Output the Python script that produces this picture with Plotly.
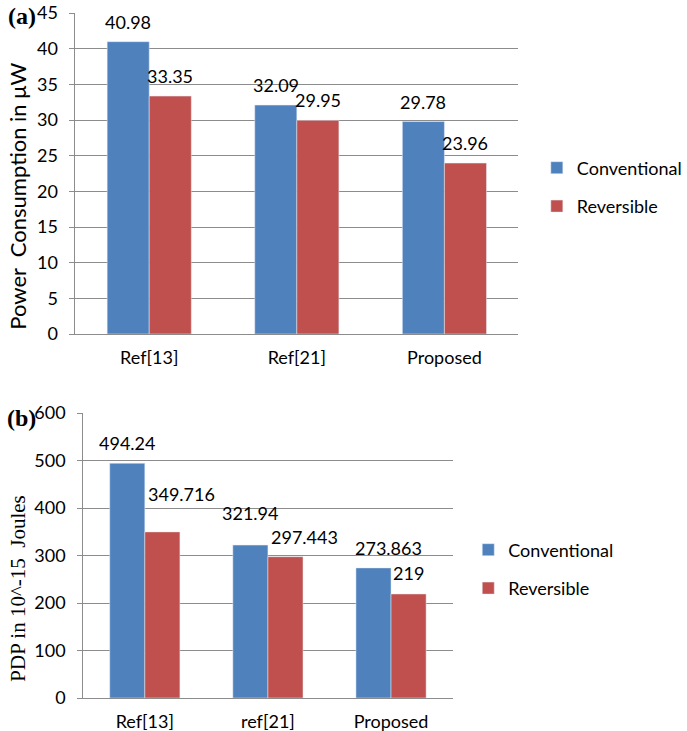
import plotly.graph_objects as go

# Panel (a): power consumption
cats_a = ["Ref[13]", "Ref[21]", "Proposed"]
power_conv = [40.98, 32.09, 29.78]
power_rev = [33.35, 29.95, 23.96]
power_conv_txt = ["40.98", "32.09", "29.78"]
power_rev_txt = ["33.35", "29.95", "23.96"]

# Panel (b): power-delay product
cats_b = ["Ref[13]", "ref[21]", "Proposed"]
pdp_conv = [494.24, 321.94, 273.863]
pdp_rev = [349.716, 297.443, 219]
pdp_conv_txt = ["494.24", "321.94", "273.863"]
pdp_rev_txt = ["349.716", "297.443", "219"]

W, H = 687, 731
BLUE = "#4F81BD"
RED = "#C0504D"
GRID = "#8C8C8C"
SANS = "Lato, Open Sans, sans-serif"
SERIF = "Liberation Serif, Times New Roman, serif"
FS = 18
BARGAP = 0.43
HALF = (1 - BARGAP) / 4  # offset of each bar centre from the category centre


def px_x(p):
    return p / W


def px_y(p):
    return 1 - p / H


fig = go.Figure()

xs = [0, 1, 2]
fig.add_trace(go.Bar(x=xs, y=power_conv, name="Conventional", marker_color=BLUE,
                     xaxis="x", yaxis="y", legend="legend", legendgroup="a1"))
fig.add_trace(go.Bar(x=xs, y=power_rev, name="Reversible", marker_color=RED,
                     xaxis="x", yaxis="y", legend="legend", legendgroup="a2"))
fig.add_trace(go.Bar(x=xs, y=pdp_conv, name="Conventional", marker_color=BLUE,
                     xaxis="x2", yaxis="y2", legend="legend2", legendgroup="b1"))
fig.add_trace(go.Bar(x=xs, y=pdp_rev, name="Reversible", marker_color=RED,
                     xaxis="x2", yaxis="y2", legend="legend2", legendgroup="b2"))

tickfont = dict(family=SANS, size=FS, color="#000000")

common_x = dict(range=[-0.5, 2.5], tickvals=xs, showgrid=False, zeroline=False,
                showline=True, linecolor=GRID, linewidth=1, ticks="",
                tickfont=tickfont, ticklabelstandoff=7, automargin=False,
                fixedrange=True)
common_y = dict(showgrid=True, gridcolor=GRID, gridwidth=1, zeroline=False,
                showline=True, linecolor=GRID, linewidth=1, ticks="outside",
                ticklen=5, tickcolor=GRID, tickfont=tickfont, ticklabelstandoff=8,
                automargin=False, fixedrange=True)

annotations = []

# value labels, panel (a)
for i in range(3):
    annotations.append(dict(x=i - HALF, y=power_conv[i], xref="x", yref="y",
                            text=power_conv_txt[i], showarrow=False, yshift=20,
                            font=tickfont))
    annotations.append(dict(x=i + HALF, y=power_rev[i], xref="x", yref="y",
                            text=power_rev_txt[i], showarrow=False, yshift=20,
                            font=tickfont))

# value labels, panel (b) (some nudged sideways to keep them clear of bars)
conv_shift_b = [(0, 20), (0, 32), (15, 20)]
rev_shift_b = [(19, 38), (19, 20), (0, 21)]
for i in range(3):
    annotations.append(dict(x=i - HALF, y=pdp_conv[i], xref="x2", yref="y2",
                            text=pdp_conv_txt[i], showarrow=False,
                            xshift=conv_shift_b[i][0], yshift=conv_shift_b[i][1],
                            font=tickfont))
    annotations.append(dict(x=i + HALF, y=pdp_rev[i], xref="x2", yref="y2",
                            text=pdp_rev_txt[i], showarrow=False,
                            xshift=rev_shift_b[i][0], yshift=rev_shift_b[i][1],
                            font=tickfont))

# axis titles and panel tags
centred = dict(xref="paper", yref="paper", xanchor="center", yanchor="middle",
               showarrow=False)
annotations += [
    dict(x=px_x(18), y=px_y(196), text="Power  Consumption in \u03bcW", textangle=-90,
         font=dict(family=SANS, size=22, color="#000000"), **centred),
    dict(x=px_x(18), y=px_y(589), text="PDP in 10^-15  Joules", textangle=-90,
         font=dict(family=SERIF, size=21, color="#000000"), **centred),
    dict(x=px_x(22), y=px_y(16), text="<b>(a)</b>",
         font=dict(family=SERIF, size=24, color="#000000"), **centred),
    dict(x=px_x(22), y=px_y(418), text="<b>(b)</b>",
         font=dict(family=SERIF, size=24, color="#000000"), **centred),
]

legend_common = dict(font=tickfont, bgcolor="rgba(0,0,0,0)", borderwidth=0,
                     tracegroupgap=12, itemclick=False, itemdoubleclick=False,
                     itemwidth=30, xanchor="left", yanchor="middle",
                     traceorder="grouped")

fig.update_layout(
    width=W, height=H, autosize=False,
    margin=dict(l=0, r=0, t=0, b=0),
    paper_bgcolor="white", plot_bgcolor="white",
    barmode="group", bargap=BARGAP, bargroupgap=0,
    showlegend=True,
    xaxis=dict(domain=[px_x(77), px_x(529)], anchor="y", ticktext=cats_a, **common_x),
    yaxis=dict(domain=[px_y(334), px_y(13)], anchor="x", range=[0, 45], dtick=5,
               **common_y),
    xaxis2=dict(domain=[px_x(85), px_x(462)], anchor="y2", ticktext=cats_b, **common_x),
    yaxis2=dict(domain=[px_y(698), px_y(413)], anchor="x2", range=[0, 600], dtick=100,
                **common_y),
    legend=dict(x=px_x(548), y=px_y(187), **legend_common),
    legend2=dict(x=px_x(478), y=px_y(569), **legend_common),
    annotations=annotations,
)

fig.write_html("out.html")
